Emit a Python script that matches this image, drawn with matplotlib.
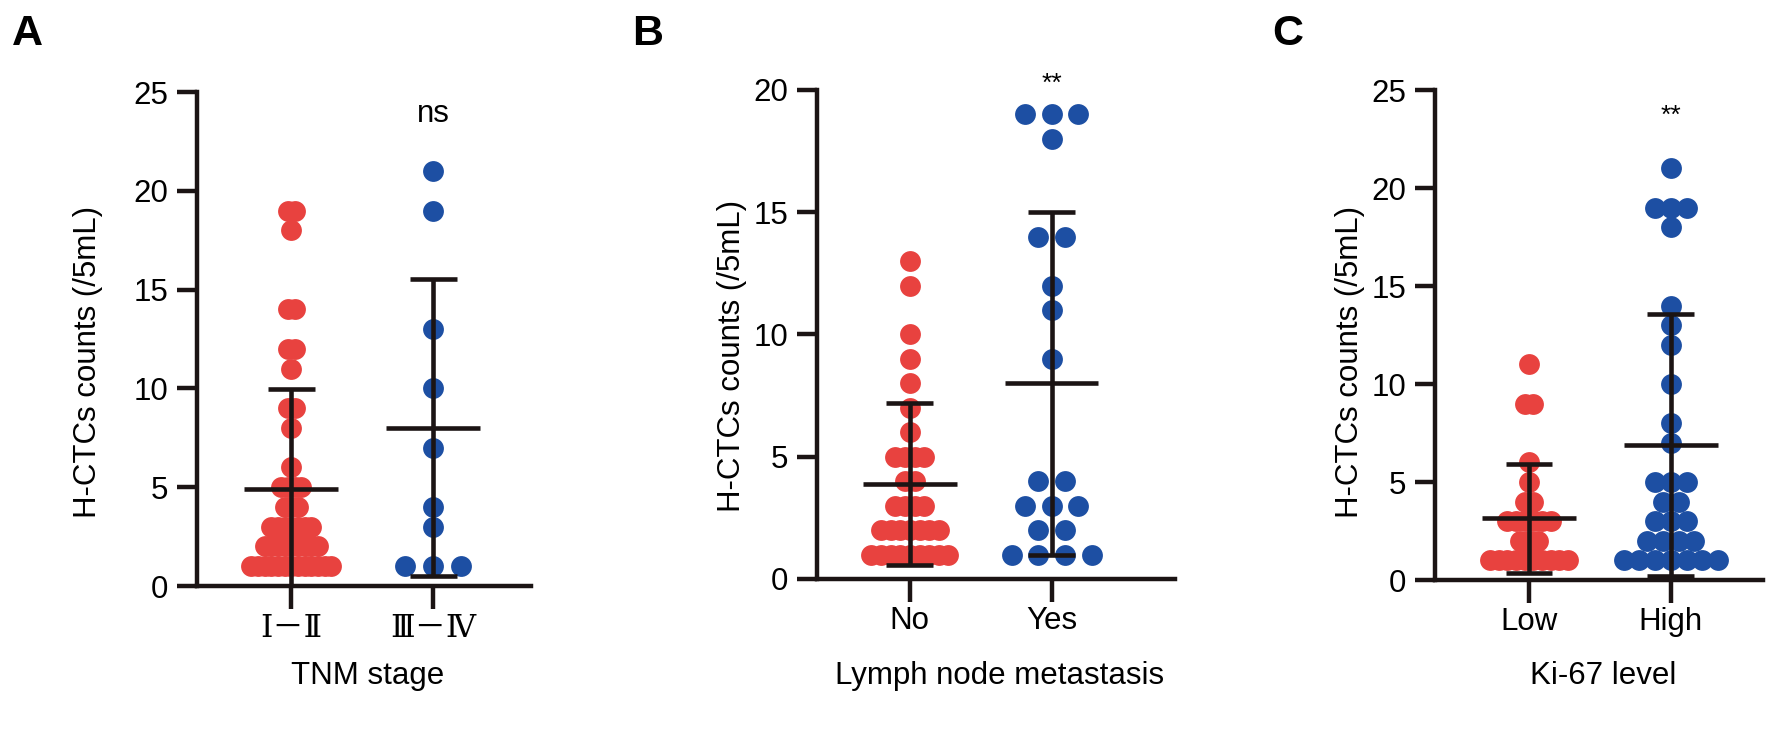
import matplotlib.pyplot as plt
import numpy as np

plt.rcParams['font.family'] = ['Liberation Sans', 'DejaVu Sans']

RED = '#E8423F'
BLUE = '#1D4FA3'
INK = '#1b1414'
FS = 22.5

# ---- data (H-CTCs counts per 5 mL) ----
# A: TNM stage
tnm_labels = ['Ⅰ－Ⅱ', 'Ⅲ－Ⅳ']
tnm_early = [1, 1, 1, 1, 1, 1, 1, 1, 1, 1, 1, 1, 1,
             2, 2, 2, 2, 2, 2, 2, 2, 2,
             3, 3, 3, 3, 3, 3, 3,
             4, 4, 4,
             5, 5, 5, 5,
             6, 8, 9, 9, 11, 12, 12, 14, 14, 18, 19, 19]
tnm_late = [1, 1, 1, 3, 4, 7, 10, 13, 19, 21]

# B: lymph node metastasis
lymph_labels = ['No', 'Yes']
lymph_no = [1, 1, 1, 1, 1, 1, 1, 1, 1,
            2, 2, 2, 2, 2, 2, 2,
            3, 3, 3, 3,
            4, 4,
            5, 5, 5, 5,
            6, 7, 8, 9, 10, 12, 13]
lymph_yes = [1, 1, 1, 1, 2, 2, 3, 3, 3, 4, 4,
             9, 11, 12, 14, 14, 18, 19, 19, 19]

# C: Ki-67 level
ki67_labels = ['Low', 'High']
ki67_low = [1, 1, 1, 1, 1, 1, 1, 1, 1, 1,
            2, 2, 2,
            3, 3, 3, 3, 3, 3,
            4, 4, 5, 6, 9, 9, 11]
ki67_high = [1, 1, 1, 1, 1, 1, 1,
             2, 2, 2, 2,
             3, 3, 3,
             4, 4,
             5, 5, 5,
             7, 8, 10, 12, 13, 14, 18, 19, 19, 19, 21]

W, H = 1772, 729
fig = plt.figure(figsize=(W / 100, H / 100), dpi=100)


def axes_px(x0, x1, ytop, ybot):
    return fig.add_axes([x0 / W, (H - ybot) / H, (x1 - x0) / W, (ybot - ytop) / H])


def swarm(ax, xc, vals, step, color):
    vals = np.asarray(vals)
    for v in np.unique(vals):
        k = np.sum(vals == v)
        xs = xc + (np.arange(k) - (k - 1) / 2) * step
        ax.plot(xs, np.full(k, v), 'o', ms=15, color=color, mec='none',
                zorder=2, clip_on=False)
    m = vals.mean()
    sd = vals.std(ddof=1)
    ax.hlines(m, xc - 0.33, xc + 0.33, color=INK, lw=3.3, zorder=3)
    ax.vlines(xc, m - sd, m + sd, color=INK, lw=3.3, zorder=3)
    ax.hlines([m - sd, m + sd], xc - 0.165, xc + 0.165, color=INK, lw=3.3, zorder=3)


def panel(box, xlim, ymax, groups, steps, labels, sig, sig_y, sig_kw):
    ax = axes_px(*box)
    swarm(ax, 0, groups[0], steps[0], RED)
    swarm(ax, 1, groups[1], steps[1], BLUE)
    ax.set_xlim(*xlim)
    ax.set_ylim(0, ymax)
    ax.set_yticks(np.arange(0, ymax + 1, 5))
    ax.set_xticks([0, 1])
    ax.set_xticklabels(labels)
    for s in ['top', 'right']:
        ax.spines[s].set_visible(False)
    for s in ['left', 'bottom']:
        ax.spines[s].set_linewidth(3.2)
        ax.spines[s].set_color(INK)
    ax.tick_params(axis='y', length=14.5, width=3.2, color=INK, labelsize=FS, pad=6)
    ax.tick_params(axis='x', length=16.5, width=3.2, color=INK, labelsize=FS, pad=3)
    ax.text(1, sig_y, sig, ha='center', va='center', clip_on=False, **sig_kw)
    return ax


axA = panel((197, 531, 92, 586), (-0.664, 1.69), 25, (tnm_early, tnm_late),
            (0.047, 0.197), tnm_labels, 'ns', 23.9, dict(fontsize=FS))
for t in axA.get_xticklabels():
    t.set_family(['DejaVu Serif', 'Noto Sans CJK SC'])
axB = panel((817, 1175, 90, 579), (-0.655, 1.87), 20, (lymph_no, lymph_yes),
            (0.068, 0.188), lymph_labels, '**', 20.25, dict(fontsize=19))
axC = panel((1435, 1763, 90, 580), (-0.663, 1.65), 25, (ki67_low, ki67_high),
            (0.061, 0.111), ki67_labels, '**', 23.7, dict(fontsize=19))

# axis titles and panel letters
ylab = 'H-CTCs counts (/5mL)'
for x, y in [(88, 362), (732, 356), (1350, 362)]:
    fig.text(x / W, 1 - y / H, ylab, rotation=90, ha='center', va='center', fontsize=FS)
for x, s in [(368, 'TNM stage'), (1000, 'Lymph node metastasis'), (1603, 'Ki-67 level')]:
    fig.text(x / W, 1 - 676 / H, s, ha='center', va='center', fontsize=FS)
for x, s in [(27, 'A'), (648, 'B'), (1288, 'C')]:
    fig.text(x / W, 1 - 34 / H, s, ha='center', va='center', fontsize=31, fontweight='bold')

fig.savefig('out.png', dpi=100, facecolor='white')
